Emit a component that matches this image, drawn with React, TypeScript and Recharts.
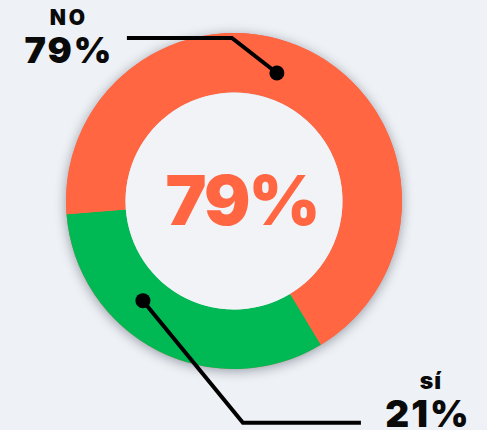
import React from 'react';
import { PieChart, Pie, Cell, Label } from 'recharts';

// Categories as shown, in drawing order (green slice first, then orange)
const categories = ['sí', 'NO'];
// Percentage labels printed next to each slice
const percentLabels = ['21%', '79%'];
// Share of the ring each slice occupies as drawn in the picture
const arcShares = [32.4, 67.6];
// Big headline number in the hole
const centerLabel = '79%';

const COLORS = ['#00b955', '#ff6641'];
const BG = '#eef1f5';
const HOLE = '#f2f3f7';
const FONT = 'Inter, "Noto Sans", sans-serif';

const data = categories.map((name, i) => ({ name, value: arcShares[i], pct: percentLabels[i] }));

const CX = 234;
const CY = 201;
const INNER = 108.5;
const OUTER = 168;
const DOT_R = 135;
const ANGLE_SHIFT = [-15.25, 8.65];

const renderLabel = (p: any) => {
  const i = p.index;
  const a = ((p.midAngle + ANGLE_SHIFT[i]) * Math.PI) / 180;
  const x = p.cx + DOT_R * Math.cos(-a);
  const y = p.cy + DOT_R * Math.sin(-a);
  if (i === 1) {
    const ex = x - 45, ey = y - 35;
    const lx = ex - 105;
    const tx = lx - 59;
    return (
      <g>
        <polyline points={`${x},${y} ${ex},${ey} ${lx},${ey}`} fill="none" stroke="#000" strokeWidth={4} />
        <circle cx={x} cy={y} r={7.5} fill="#000" />
        <text x={tx + 1} y={ey - 13} textAnchor="middle" fontFamily={FONT} fontWeight={900} fontSize={21} letterSpacing={3} fill="#0a0a0a">{p.payload.name}</text>
        <text x={tx + 1} y={ey + 25} textAnchor="middle" fontFamily={FONT} fontWeight={900} fontSize={36} letterSpacing={2} fill="#0a0a0a">{p.payload.pct}</text>
      </g>
    );
  }
  const ex = x + 100, ey = y + 122;
  const lx = ex + 118;
  const tx = lx + 66;
  return (
    <g>
      <polyline points={`${x},${y} ${ex},${ey} ${lx},${ey}`} fill="none" stroke="#000" strokeWidth={4} />
      <circle cx={x} cy={y} r={7.5} fill="#000" />
      <text x={tx + 4} y={ey - 34} textAnchor="middle" fontFamily={FONT} fontWeight={900} fontSize={23} letterSpacing={1} fill="#0a0a0a">{p.payload.name}</text>
      <text x={tx + 1} y={ey + 4} textAnchor="middle" fontFamily={FONT} fontWeight={900} fontSize={37} letterSpacing={2} fill="#0a0a0a">{p.payload.pct}</text>
    </g>
  );
};

export default function App() {
  return (
    <div style={{ position: 'fixed', left: 0, top: 0, width: 487, height: 430, background: BG }}>
      <PieChart width={487} height={430} margin={{ top: 0, right: 0, bottom: 0, left: 0 }}>
        <Pie
          data={[{ name: 'shadow', value: 1 }]}
          dataKey="value"
          cx={CX}
          cy={CY}
          innerRadius={INNER + 2}
          outerRadius={OUTER}
          startAngle={0}
          endAngle={360}
          stroke="none"
          isAnimationActive={false}
        >
          <Cell fill="#ff6641" style={{ filter: 'drop-shadow(0px 2px 6px rgba(40,50,70,0.45))' }} />
        </Pie>
        <Pie
          data={data}
          dataKey="value"
          cx={CX}
          cy={CY}
          innerRadius={INNER}
          outerRadius={OUTER}
          startAngle={184.5}
          endAngle={544.5}
          stroke="none"
          label={renderLabel}
          labelLine={false}
          isAnimationActive={false}
        >
          {data.map((d, i) => (
            <Cell key={d.name} fill={COLORS[i]} />
          ))}
        </Pie>
        <Pie
          data={[{ name: 'hole', value: 1 }]}
          dataKey="value"
          cx={CX}
          cy={CY}
          innerRadius={0}
          outerRadius={INNER}
          startAngle={0}
          endAngle={360}
          stroke="none"
          fill={HOLE}
          isAnimationActive={false}
        >
          <Label
            position="center"
            content={(props: any) => {
              const vb = props.viewBox || {};
              const cx = vb.cx ?? CX;
              const cy = vb.cy ?? CY;
              return (
                <text x={cx + 8} y={cy + 24} textAnchor="middle" fontFamily={FONT} fontWeight={900} fontSize={69} letterSpacing={-2} fill="#ff6641">
                  {centerLabel}
                </text>
              );
            }}
          />
        </Pie>
      </PieChart>
    </div>
  );
}
